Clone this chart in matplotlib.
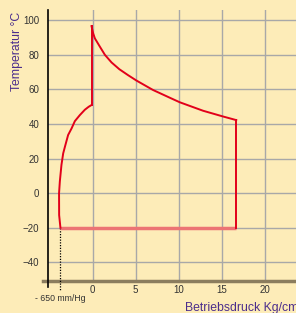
import matplotlib
matplotlib.use("Agg")
import matplotlib.pyplot as plt

# upper curve (after the jump), pressure vs temperature
hot_p = [-0.12, 0.07, 0.27, 0.85, 1.43, 2.2, 3.1, 4.1, 5.1, 7.0, 9.0, 10.1, 12.8, 15.1, 16.64]
hot_t = [96.5, 92.3, 89.4, 84.6, 79.9, 75.5, 71.6, 68.2, 65.0, 59.6, 55.0, 52.5, 47.6, 44.3, 42.2]

# lower left curve (vacuum side)
cold_p = [-3.72, -3.87, -3.88, -3.79, -3.6, -3.4, -3.2, -2.83, -2.43, -2.05, -1.47, -0.89, -0.45, -0.12]
cold_t = [-20.0, -12.7, 0.0, 6.7, 16.4, 23.0, 26.8, 33.6, 37.4, 41.6, 45.1, 48.2, 49.9, 50.9]

p_vac = -3.72
p_max = 16.64
t_min = -20.0

xticks = [0, 5, 10, 15, 20]
yticks = [-40, -20, 0, 20, 40, 60, 80, 100]

bg = "#fdecb8"
purple = "#4b2d8c"
red = "#e2001a"
font = "Liberation Sans"

fig = plt.figure(figsize=(2.96, 3.13), dpi=100, facecolor=bg)
ax = fig.add_axes([0.161, 0.102, 0.839, 0.866], facecolor=bg)
xmin, xmax = -5.2, 23.56
ymin, ymax = -50.8, 105.8
ax.set_xlim(xmin, xmax)
ax.set_ylim(ymin, ymax)

for s in ax.spines.values():
    s.set_visible(False)

ax.set_xticks(xticks)
ax.set_yticks(yticks)
ax.grid(True, color="#a8a8a8", lw=1)
ax.set_axisbelow(True)
ax.tick_params(length=0, labelsize=7, labelcolor="#333333", pad=3)
ax.tick_params(axis="y", pad=6)
for lab in ax.get_xticklabels() + ax.get_yticklabels():
    lab.set_family(font)

# axes lines
ax.plot([xmin - 0.5, xmax], [ymin, ymin], color="#8b7d5e", lw=2.5, clip_on=False, zorder=3)
ax.plot([xmin, xmin], [ymin - 3.5, ymax], color="black", lw=1.2, clip_on=False, zorder=4)
ax.plot([p_vac, p_vac], [t_min, ymin - 6], color="black", lw=0.9, ls=(0, (1, 1.2)),
        clip_on=False, zorder=4)

# cycle
ax.plot([p_vac, p_max], [t_min, t_min], color="#ec7474", lw=2.5, zorder=5, solid_capstyle="butt")
ax.plot(cold_p, cold_t, color=red, lw=1.4, zorder=6)
ax.plot([cold_p[-1], hot_p[0]], [cold_t[-1], hot_t[0]], color=red, lw=1.4, zorder=6)
ax.plot(hot_p, hot_t, color=red, lw=1.4, zorder=6)
ax.plot([p_max, p_max], [hot_t[-1], t_min], color=red, lw=1.4, zorder=6)

ax.text(p_vac, ymin - 7.5, "- 650 mm/Hg", ha="center", va="top", fontsize=6.3,
        color="#333333", family=font)
fig.text(185 / 296, 1 - 310.5 / 313, "Betriebsdruck Kg/cm\u00b2", ha="left", va="baseline",
         fontsize=8.8, color=purple, family=font)
fig.text(17 / 296, 1 - 51 / 313, "Temperatur \u00b0C", rotation=90, ha="center", va="center",
         fontsize=8.8, color=purple, family=font)

fig.savefig("out.png", dpi=100, facecolor=bg)
